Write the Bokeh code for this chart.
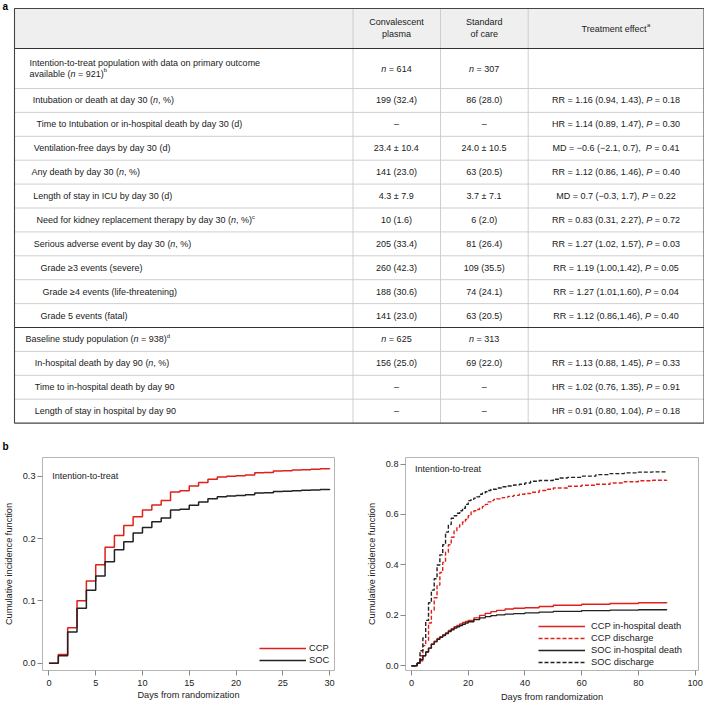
from bokeh.plotting import figure
from bokeh.models import Range1d, Legend, LegendItem, FixedTicker, NumeralTickFormatter, Label
from bokeh.layouts import column, row
from bokeh.embed import file_html
from bokeh.resources import INLINE
from bokeh.core.properties import value

# ---------------- Table data (panel a) ----------------
header_ccp = ["Convalescent", "plasma"]
header_soc = ["Standard", "of care"]
header_eff = "Treatment effect^a"
itt_label = ["Intention-to-treat population with data on primary outcome",
             "available (*n* = 921)^b"]
itt_ccp = "*n* = 614"
itt_soc = "*n* = 307"

row_labels = [
    "Intubation or death at day 30 (*n*, %)",
    "Time to Intubation or in-hospital death by day 30 (d)",
    "Ventilation-free days by day 30 (d)",
    "Any death by day 30 (*n*, %)",
    "Length of stay in ICU by day 30 (d)",
    "Need for kidney replacement therapy by day 30 (*n*, %)^c",
    "Serious adverse event by day 30 (*n*, %)",
    "Grade \u22653 events (severe)",
    "Grade \u22654 events (life-threatening)",
    "Grade 5 events (fatal)",
    "Baseline study population (*n* = 938)^d",
    "In-hospital death by day 90 (*n*, %)",
    "Time to in-hospital death by day 90",
    "Length of stay in hospital by day 90",
]
ccp_vals = ["199 (32.4)", "\u2013", "23.4 \u00b1 10.4", "141 (23.0)", "4.3 \u00b1 7.9", "10 (1.6)",
            "205 (33.4)", "260 (42.3)", "188 (30.6)", "141 (23.0)", "*n* = 625",
            "156 (25.0)", "\u2013", "\u2013"]
soc_vals = ["86 (28.0)", "\u2013", "24.0 \u00b1 10.5", "63 (20.5)", "3.7 \u00b1 7.1", "6 (2.0)",
            "81 (26.4)", "109 (35.5)", "74 (24.1)", "63 (20.5)", "*n* = 313",
            "69 (22.0)", "\u2013", "\u2013"]
effects = [
    "RR = 1.16 (0.94, 1.43), *P* = 0.18",
    "HR = 1.14 (0.89, 1.47), *P* = 0.30",
    "MD =  \u22120.6 (\u22122.1, 0.7), *P* = 0.41",
    "RR = 1.12 (0.86, 1.46), *P* = 0.40",
    "MD = 0.7 (\u22120.3, 1.7), *P* = 0.22",
    "RR = 0.83 (0.31, 2.27), *P* = 0.72",
    "RR = 1.27 (1.02, 1.57), *P* = 0.03",
    "RR = 1.19 (1.00,1.42), *P* = 0.05",
    "RR = 1.27 (1.01,1.60), *P* = 0.04",
    "RR = 1.12 (0.86,1.46), *P* = 0.40",
    "",
    "RR = 1.13 (0.88, 1.45), *P* = 0.33",
    "HR = 1.02 (0.76, 1.35), *P* = 0.91",
    "HR = 0.91 (0.80, 1.04), *P* = 0.18",
]
# label indentation (layout only)
row_indent = [32.3, 36, 33.3, 31, 32.7, 36, 33.3, 40, 42, 40, 25, 34.3, 34.3, 34.3]

# ---------------- Curve data (panel b, left): intubation or death ----------------
days_30 = [0, 1, 2, 3, 4, 5, 6, 7, 8, 9, 10, 11, 12, 13, 14, 15, 16, 17, 18, 19, 20,
           21, 22, 23, 24, 25, 26, 27, 28, 29, 30]
ccp_cif = [0.0, 0.014, 0.057, 0.100, 0.132, 0.158, 0.186, 0.205, 0.221, 0.235, 0.246,
           0.254, 0.261, 0.275, 0.277, 0.2845, 0.290, 0.2954, 0.299, 0.300, 0.301,
           0.302, 0.3058, 0.306, 0.3084, 0.309, 0.310, 0.3105, 0.3115, 0.312, 0.313]
soc_cif = [0.0, 0.012, 0.050, 0.088, 0.117, 0.140, 0.163, 0.182, 0.195, 0.209, 0.218,
           0.227, 0.233, 0.246, 0.247, 0.2534, 0.2587, 0.2638, 0.267, 0.2685, 0.269,
           0.2705, 0.273, 0.2735, 0.2757, 0.276, 0.277, 0.2775, 0.278, 0.279, 0.2798]

# ---------------- Curve data (panel b, right): death and discharge ----------------
soc_dis_days = [0, 2, 3, 4, 5, 6, 7, 8, 9, 10, 11, 12, 13, 14, 15, 16, 17, 18, 19, 20, 21,
                22, 23, 24, 25, 26, 27, 28, 29, 30, 32, 34, 36, 38, 40, 42, 45, 50, 52, 55,
                60, 65, 70, 75, 80, 85, 90]
soc_dis = [0.0, 0.01, 0.06, 0.11, 0.18, 0.25, 0.30, 0.345, 0.40, 0.44, 0.48, 0.53, 0.56,
           0.585, 0.595, 0.605, 0.615, 0.625, 0.64, 0.655, 0.66, 0.665, 0.67, 0.68, 0.685,
           0.69, 0.695, 0.70, 0.70, 0.705, 0.71, 0.713, 0.717, 0.72, 0.725, 0.732, 0.735,
           0.74, 0.745, 0.747, 0.752, 0.758, 0.762, 0.765, 0.768, 0.769, 0.77]
ccp_dis_days = [0, 2, 3, 4, 5, 6, 7, 8, 9, 10, 11, 12, 13, 14, 15, 16, 17, 18, 19, 20, 21,
                22, 23, 24, 25, 26, 27, 28, 29, 30, 32, 34, 36, 38, 40, 42, 45, 48, 50, 55,
                60, 65, 70, 75, 80, 85, 90]
ccp_dis = [0.0, 0.01, 0.04, 0.08, 0.10, 0.17, 0.22, 0.27, 0.32, 0.37, 0.41, 0.45, 0.48,
           0.51, 0.535, 0.55, 0.56, 0.57, 0.58, 0.595, 0.61, 0.615, 0.62, 0.625, 0.632,
           0.64, 0.65, 0.655, 0.66, 0.662, 0.667, 0.672, 0.676, 0.68, 0.683, 0.688, 0.695,
           0.70, 0.705, 0.712, 0.716, 0.72, 0.725, 0.73, 0.734, 0.736, 0.737]
death_days = [0, 2, 3, 4, 5, 6, 7, 8, 9, 10, 11, 12, 13, 14, 15, 16, 17, 18, 19, 20, 22,
              24, 26, 28, 30, 33, 36, 40, 45, 50, 60, 70, 80, 90]
soc_death = [0.0, 0.01, 0.025, 0.04, 0.055, 0.07, 0.085, 0.095, 0.105, 0.113, 0.12, 0.128,
             0.136, 0.143, 0.15, 0.155, 0.16, 0.165, 0.17, 0.175, 0.183, 0.19, 0.195, 0.199,
             0.202, 0.205, 0.207, 0.21, 0.213, 0.216, 0.219, 0.221, 0.222, 0.223]
ccp_death = [0.0, 0.01, 0.02, 0.04, 0.055, 0.07, 0.087, 0.098, 0.108, 0.115, 0.123, 0.13,
             0.14, 0.147, 0.155, 0.16, 0.166, 0.172, 0.176, 0.18, 0.19, 0.2, 0.208, 0.215,
             0.22, 0.225, 0.228, 0.23, 0.235, 0.24, 0.244, 0.247, 0.25, 0.252]

left_xticks = [0, 5, 10, 15, 20, 25, 30]
left_yticks = [0.0, 0.1, 0.2, 0.3]
right_xticks = [0, 20, 40, 60, 80, 100]
right_yticks = [0.0, 0.2, 0.4, 0.6, 0.8]

# ---------------- styling ----------------
FONT = "Liberation Sans"
RED = "#e0201b"
BLK = "#222222"
PFS = "9.2px"   # plot text size

# Arial / Liberation Sans advance widths (1/1000 em)
W = {' ': 278, '!': 278, '(': 333, ')': 333, ',': 278, '-': 333, '.': 278, '/': 278,
     ':': 278, '=': 584, '%': 889, '\u00b1': 584, '\u2265': 549, '\u2013': 556, '\u2212': 584}
for ch in "0123456789":
    W[ch] = 556
W.update(dict(zip("ABCDEFGHIJKLMNOPQRSTUVWXYZ",
                  [667, 667, 722, 722, 667, 611, 778, 722, 278, 500, 667, 556, 833, 722, 778,
                   667, 778, 722, 667, 611, 722, 667, 944, 667, 667, 611])))
W.update(dict(zip("abcdefghijklmnopqrstuvwxyz",
                  [556, 556, 500, 556, 556, 278, 556, 556, 222, 222, 500, 222, 833, 556, 556,
                   556, 556, 333, 500, 278, 556, 500, 722, 500, 500, 500])))


def tw(t, size):
    return sum(W.get(c, 556) for c in t) * size / 1000.0


def parse(s):
    segs, cur, kind, i = [], "", "n", 0
    while i < len(s):
        c = s[i]
        if c == '*':
            if cur:
                segs.append((cur, kind))
            cur = ""
            kind = "i" if kind == "n" else "n"
        elif c == '^':
            if cur:
                segs.append((cur, kind))
            cur = ""
            segs.append((s[i + 1], "s"))
            i += 1
        else:
            cur += c
        i += 1
    if cur:
        segs.append((cur, kind))
    return segs


BUCKETS = {"n": ([], [], []), "i": ([], [], []), "s": ([], [], [])}
FS = 9.0      # table font size (px)
SUP = 0.66


def place(s, x0, y0, align="left"):
    segs = parse(s)
    sizes = [FS * SUP if k == "s" else FS for _, k in segs]
    total = sum(tw(t, z) for (t, _), z in zip(segs, sizes))
    x = x0 if align == "left" else x0 - total / 2.0
    for (t, k), z in zip(segs, sizes):
        lead = len(t) - len(t.lstrip(' '))
        txt = t.strip(' ')
        if txt:
            xs = x + tw(' ' * lead, z)
            ys = y0 - (FS * 0.38 if k == "s" else 0)
            bx, by, bt = BUCKETS[k]
            bx.append(xs); by.append(ys); bt.append(txt)
        x += tw(t, z)


# ---------------- Table figure ----------------
TW, TH = 704, 452
tab = figure(width=TW, height=TH, x_range=Range1d(0, TW), y_range=Range1d(TH, 0),
             output_backend="svg", toolbar_location=None, min_border=0,
             min_border_left=0, min_border_right=0, min_border_top=0, min_border_bottom=0)
tab.axis.visible = False
tab.grid.visible = False
tab.outline_line_color = None

XL, XR = 14, 703.5
YT, YH = 8, 48
R0, RH = 88, 23.9
YB = R0 + RH * 14
COLX = [352.5, 440, 527.7]
CX = [396, 483.7, 615.5]

tab.quad(left=[XL], right=[XR], top=[YT], bottom=[YH], fill_color="#efefef", line_color=None)
hy = [R0 + RH * k for k in range(14) if k != 10]
tab.segment(x0=[XL] * len(hy), x1=[XR] * len(hy), y0=hy, y1=hy, line_color="#c9c9c9", line_width=0.9)
tab.segment(x0=COLX, x1=COLX, y0=[YT] * 3, y1=[YB] * 3, line_color="#c9c9c9", line_width=0.9)
tab.segment(x0=[XL, XL], x1=[XR, XR], y0=[YH, R0 + RH * 10], y1=[YH, R0 + RH * 10],
            line_color="#333333", line_width=1.1)
tab.quad(left=[XL], right=[XR], top=[YT], bottom=[YB], fill_color=None,
         line_color="#444444", line_width=1.1)

place(header_ccp[0], CX[0], 21.5, "center")
place(header_ccp[1], CX[0], 33, "center")
place(header_soc[0], CX[1], 21.5, "center")
place(header_soc[1], CX[1], 33, "center")
place(header_eff, CX[2], 28, "center")
place(itt_label[0], 29, 62)
place(itt_label[1], 29, 73)
place(itt_ccp, CX[0], 68, "center")
place(itt_soc, CX[1], 68, "center")
for r in range(14):
    yc = R0 + RH * r + RH / 2.0
    place(row_labels[r], row_indent[r], yc)
    place(ccp_vals[r], CX[0], yc, "center")
    place(soc_vals[r], CX[1], yc, "center")
    if effects[r]:
        place(effects[r], CX[2], yc, "center")

common = dict(text_font=value(FONT), text_baseline="middle", text_align="left", text_color="#1a1a1a")
bx, by, bt = BUCKETS["n"]
tab.text(x=bx, y=by, text=bt, text_font_size=f"{FS:.2f}px", **common)
bx, by, bt = BUCKETS["i"]
tab.text(x=bx, y=by, text=bt, text_font_size=f"{FS:.2f}px", text_font_style="italic", **common)
bx, by, bt = BUCKETS["s"]
tab.text(x=bx, y=by, text=bt, text_font_size=f"{FS * SUP:.2f}px", **common)

tab.text(x=[2, 2], y=[6, 446], text=["a", "b"], text_font=value(FONT), text_font_style="bold",
         text_font_size="10px", text_baseline="middle", text_align="left", text_color="#000000")


# ---------------- plot helpers ----------------
def style_plot(p, xt, yt):
    p.grid.visible = False
    p.outline_line_color = "#b5b5b5"
    p.outline_line_width = 1
    p.xaxis.ticker = FixedTicker(ticks=xt)
    p.yaxis.ticker = FixedTicker(ticks=yt)
    p.yaxis.formatter = NumeralTickFormatter(format="0.0")
    for ax in (p.xaxis[0], p.yaxis[0]):
        ax.axis_line_color = None
        ax.major_tick_line_color = "#888888"
        ax.major_tick_out = 5
        ax.major_tick_in = 0
        ax.minor_tick_line_color = None
        ax.major_label_text_font = FONT
        ax.major_label_text_font_size = PFS
        ax.major_label_text_color = "#222222"
        ax.axis_label_text_font = FONT
        ax.axis_label_text_font_size = PFS
        ax.axis_label_text_font_style = "normal"
        ax.axis_label_text_color = "#222222"
    p.xaxis.axis_label = "Days from randomization"
    p.yaxis.axis_label = "Cumulative incidence function"


def add_legend(p, items, loc, gw, standoff):
    leg = Legend(items=items, location=loc, glyph_width=gw, glyph_height=12, label_height=12,
                 spacing=0, padding=0, margin=0, border_line_color=None,
                 background_fill_alpha=0, label_standoff=standoff,
                 label_text_font=FONT, label_text_font_size="9.3px", label_text_color="#222222")
    p.add_layout(leg)


BH = 254  # bottom row height

# ---------------- left plot ----------------
lp = figure(width=352, height=BH, x_range=Range1d(-0.69, 30.53), y_range=Range1d(-0.0118, 0.3302),
            output_backend="svg", toolbar_location=None,
            min_border_left=38, min_border_right=18, min_border_top=1, min_border_bottom=33)
style_plot(lp, left_xticks, left_yticks)
lp.xaxis.major_label_standoff = 4
lp.xaxis.axis_label_standoff = 1
lp.yaxis.major_label_standoff = 2
lp.yaxis.axis_label_standoff = 6
r_ccp = lp.step(days_30, ccp_cif, mode="after", line_color=RED, line_width=1.5)
r_soc = lp.step(days_30, soc_cif, mode="after", line_color=BLK, line_width=1.5)
add_legend(lp, [LegendItem(label="CCP", renderers=[r_ccp]), LegendItem(label="SOC", renderers=[r_soc])],
           (217, 4), 47, 3)
lp.add_layout(Label(x=0.36, y=0.3, text="Intention-to-treat", text_font=FONT, text_font_size="9px",
                    text_baseline="middle", text_color="#222222"))

# ---------------- right plot ----------------
rp = figure(width=352, height=BH, x_range=Range1d(-2.12, 101.2), y_range=Range1d(-0.0186, 0.826),
            output_backend="svg", toolbar_location=None,
            min_border_left=53, min_border_right=6, min_border_top=5, min_border_bottom=36)
style_plot(rp, right_xticks, right_yticks)
rp.xaxis.major_label_standoff = 4
rp.xaxis.axis_label_standoff = 3
rp.yaxis.major_label_standoff = 2
rp.yaxis.axis_label_standoff = 6
r1 = rp.step(death_days, ccp_death, mode="after", line_color=RED, line_width=1.4)
r2 = rp.step(ccp_dis_days, ccp_dis, mode="after", line_color=RED, line_width=1.4, line_dash="4 2")
r3 = rp.step(death_days, soc_death, mode="after", line_color=BLK, line_width=1.4)
r4 = rp.step(soc_dis_days, soc_dis, mode="after", line_color=BLK, line_width=1.4, line_dash="4 2")
add_legend(rp, [LegendItem(label="CCP in-hospital death", renderers=[r1]),
                LegendItem(label="CCP discharge", renderers=[r2]),
                LegendItem(label="SOC in-hospital death", renderers=[r3]),
                LegendItem(label="SOC discharge", renderers=[r4])],
           (133, 2), 47, 6)
rp.add_layout(Label(x=1.2, y=0.78, text="Intention-to-treat", text_font=FONT, text_font_size="9px",
                    text_baseline="middle", text_color="#222222"))

layout = column(tab, row(lp, rp, spacing=0), spacing=0)
open("out.html", "w").write(file_html(layout, INLINE))
